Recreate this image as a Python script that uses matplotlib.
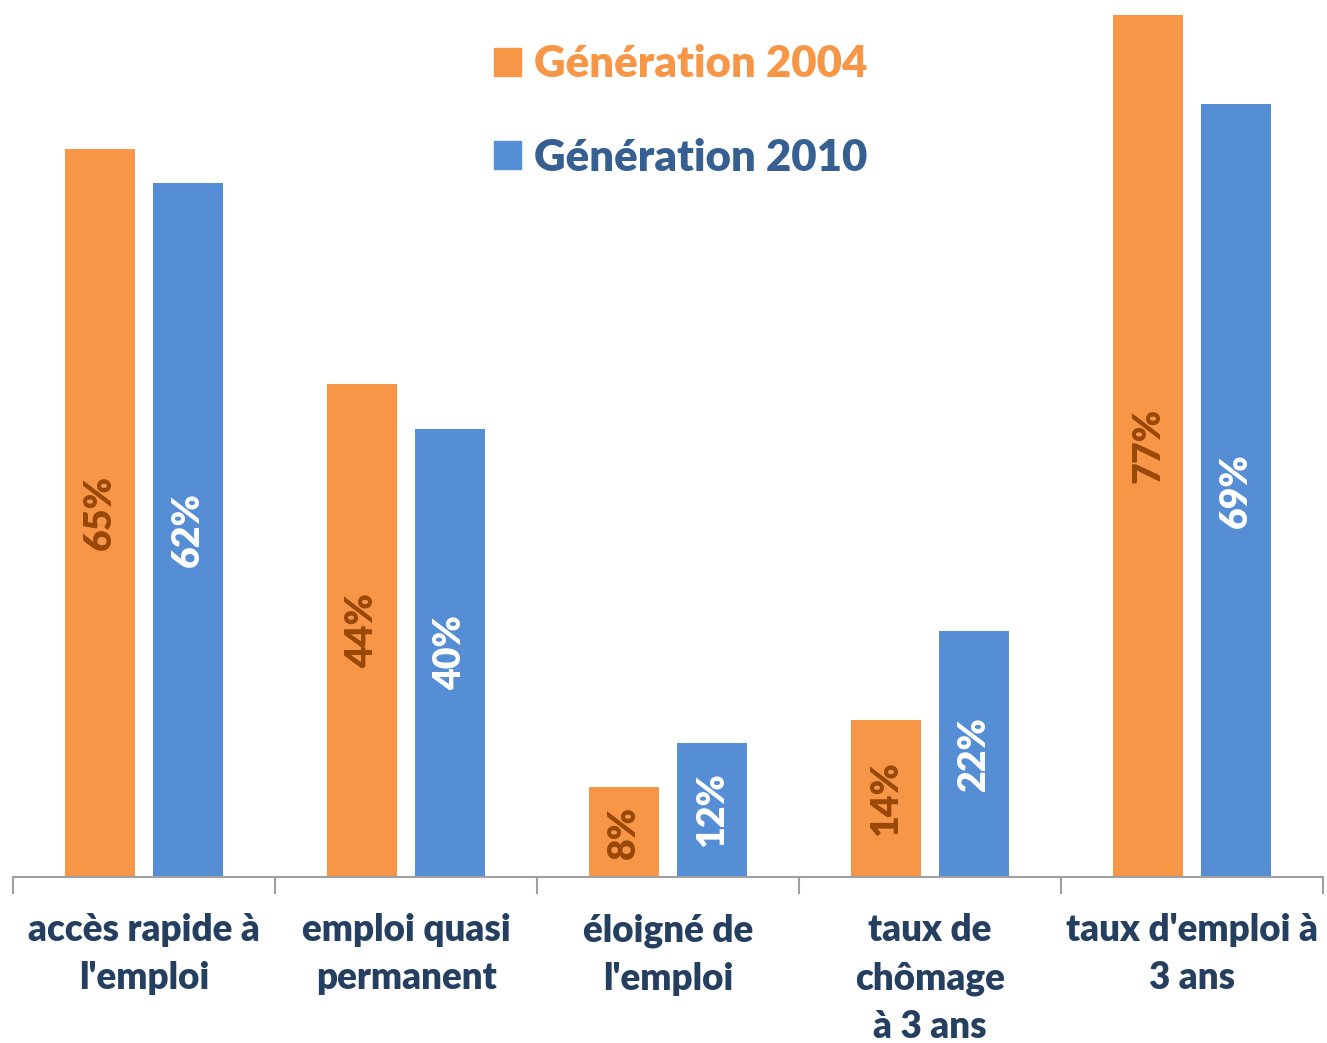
import matplotlib.pyplot as plt
import numpy as np
from matplotlib.patches import Patch

categories = ["accès rapide à\nl'emploi", "emploi quasi\npermanent", "éloigné de\nl'emploi",
              "taux de\nchômage\nà 3 ans", "taux d'emploi à\n3 ans"]
gen_2004 = [65, 44, 8, 14, 77]
gen_2010 = [62, 40, 12, 22, 69]
series_names = ["Génération 2004", "Génération 2010"]

orange = "#F79646"
blue = "#558ED5"
navy = "#243F60"

plt.rcParams['font.family'] = ['Lato', 'DejaVu Sans']

fig = plt.figure(figsize=(13.27, 10.43), dpi=100)
ax = fig.add_axes([13 / 1327, 166 / 1043, 1310 / 1327, 877 / 1043])

x = np.arange(len(categories))
w = 0.267
off = 0.167
b1 = ax.bar(x - off, gen_2004, w, color=orange)
b2 = ax.bar(x + off, gen_2010, w, color=blue)

for bars, vals, col in [(b1, gen_2004, "#984807"), (b2, gen_2010, "white")]:
    for bar, v in zip(bars, vals):
        ax.text(bar.get_x() + bar.get_width() / 2, v / 2, f"{v}%", rotation=90,
                ha="center", va="center", color=col, fontsize=27, fontweight="heavy")

ax.set_xlim(-0.5, len(categories) - 0.5)
ax.set_ylim(0, 78.3)

for s in ["top", "right", "left"]:
    ax.spines[s].set_visible(False)
ax.spines["bottom"].set_color("#A0A0A0")
ax.spines["bottom"].set_linewidth(1.5)
ax.set_yticks([])

ax.set_xticks(x)
ax.set_xticklabels(categories, fontsize=26.5, fontweight="heavy", color=navy, linespacing=1.5)
ax.tick_params(axis="x", which="major", length=0, pad=26)
ax.set_xticks(np.arange(len(categories) + 1) - 0.5, minor=True)
ax.tick_params(axis="x", which="minor", length=12, width=1.5, color="#A0A0A0")

handles = [Patch(color=orange), Patch(color=blue)]
leg = fig.legend(handles, series_names, loc="upper left", bbox_to_anchor=(455 / 1327, 1 - 5 / 1043),
                 frameon=False, prop={"weight": "heavy", "size": 31.5},
                 handlelength=0.6, handleheight=0.6, handletextpad=0.3, labelspacing=1.22)
leg.get_texts()[0].set_color(orange)
leg.get_texts()[1].set_color("#376092")

fig.savefig("out.png", dpi=100)
